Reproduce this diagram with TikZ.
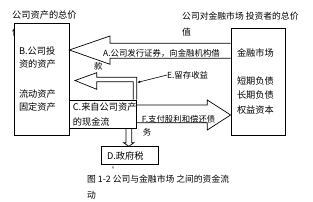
\documentclass[tikz,border=0pt]{standalone}
\usepackage{fontspec}
\setmainfont{Noto Sans CJK SC}
\usetikzlibrary{arrows.meta, positioning}

\begin{document}
\begin{tikzpicture}[
    x=1pt, y=-1pt,
    every node/.style={font=\fontsize{9.2}{13.5}\selectfont},
    boxPlain/.style={
        rectangle,
        draw=black,
        fill=white,
        line width=0.8pt,
        inner sep=0pt,
        align=left
    },
    arrowHollow/.style={
        draw=black,
        line width=0.7pt,
        line join=miter
    },
    labelText/.style={
        font=\fontsize{8.4}{13}\selectfont,
        inner sep=0pt,
        align=left
    }
]
\useasboundingbox (0,0) rectangle (313,201);

% Titles
\node[inner sep=0pt, align=left, anchor=north west, font=\fontsize{9.2}{17}\selectfont] (tl) at (12,10.5) {公司资产的总价\\值};
\node[inner sep=0pt, align=left, anchor=north west, font=\fontsize{8.8}{16}\selectfont] (tr) at (182,11.5) {公司对金融市场 投资者的总价\\值};

% Boxes
\node[boxPlain, minimum width=55pt, minimum height=111.7pt, text width=45pt] (b) at (41.5,79.2) {
B.公司投\\资的资产\\[16pt]
流动资产\\固定资产
};

\node[boxPlain, minimum width=54pt, minimum height=106.7pt, text width=42pt, font=\fontsize{9.2}{14.5}\selectfont] (m) at (258,81.7) {
金融市场\\[13pt]
短期负债\\长期负债\\权益资本
};

\node[boxPlain, minimum width=67.7pt, minimum height=28.3pt, text width=60pt, font=\fontsize{9.2}{15}\selectfont] (c) at (102.85,114.15) {
C.来自公司资产\\的现金流
};

\node[boxPlain, minimum width=56.6pt, minimum height=17.6pt, text width=46pt] (d) at (130,155.5) {D.政府税};

% Flows
\draw[arrowHollow] (m.west |- 0,43.3) -- (110,43.3) -- (110,36) -- (b.east |- 0,50)
    -- (110,64.3) -- (110,58.3) -- (m.west |- 0,58.3);
\draw[arrowHollow] (c.north -| 136.7,0) -- (136.7,77.3) -- (96.7,77.3) -- (96.7,72.7) -- (75,80.5)
    -- (96.7,89.3) -- (96.7,81.7) -- (133.3,81.7) -- (c.north -| 133.3,0);
\draw[arrowHollow] (c.east |- 0,105) -- (207.3,105) -- (207.3,100) -- (m.west |- 0,115)
    -- (207.3,130) -- (207.3,122.7) -- (c.east |- 0,122.7);
\draw[arrowHollow] (c.south -| 126,0) -- (126,142.7) -- (123.5,142.7) -- (d.north -| 128.8,0)
    -- (134,142.7) -- (131.7,142.7) -- (c.south -| 131.7,0);

% Labels
\node[labelText, anchor=north west] (la) at (94,48.8) {\hspace*{9pt}A.公司发行证券，向金融机构借\\款};
\node[labelText, anchor=west] (le) at (167,75) {E.留存收益};
\coordinate (eTip) at (137.2,82.5);
\draw[line width=0.6pt, -{Latex[length=3pt, width=2.6pt]}] (le.west) -- (eTip);
\node[labelText, anchor=north west] (lf) at (141.7,114.8) {F.支付股利和偿还债\\\hspace*{1pt}务};
\node[inner sep=0pt, font=\fontsize{5}{6}\selectfont] (caret) at (113,169) {\textasciicircum};

% Caption
\node[inner sep=0pt, align=left, anchor=north west, font=\fontsize{8.8}{16}\selectfont] (cap) at (87,174.5) {图 1-2 公司与金融市场 之间的资金流\\动};

\end{tikzpicture}
\end{document}
